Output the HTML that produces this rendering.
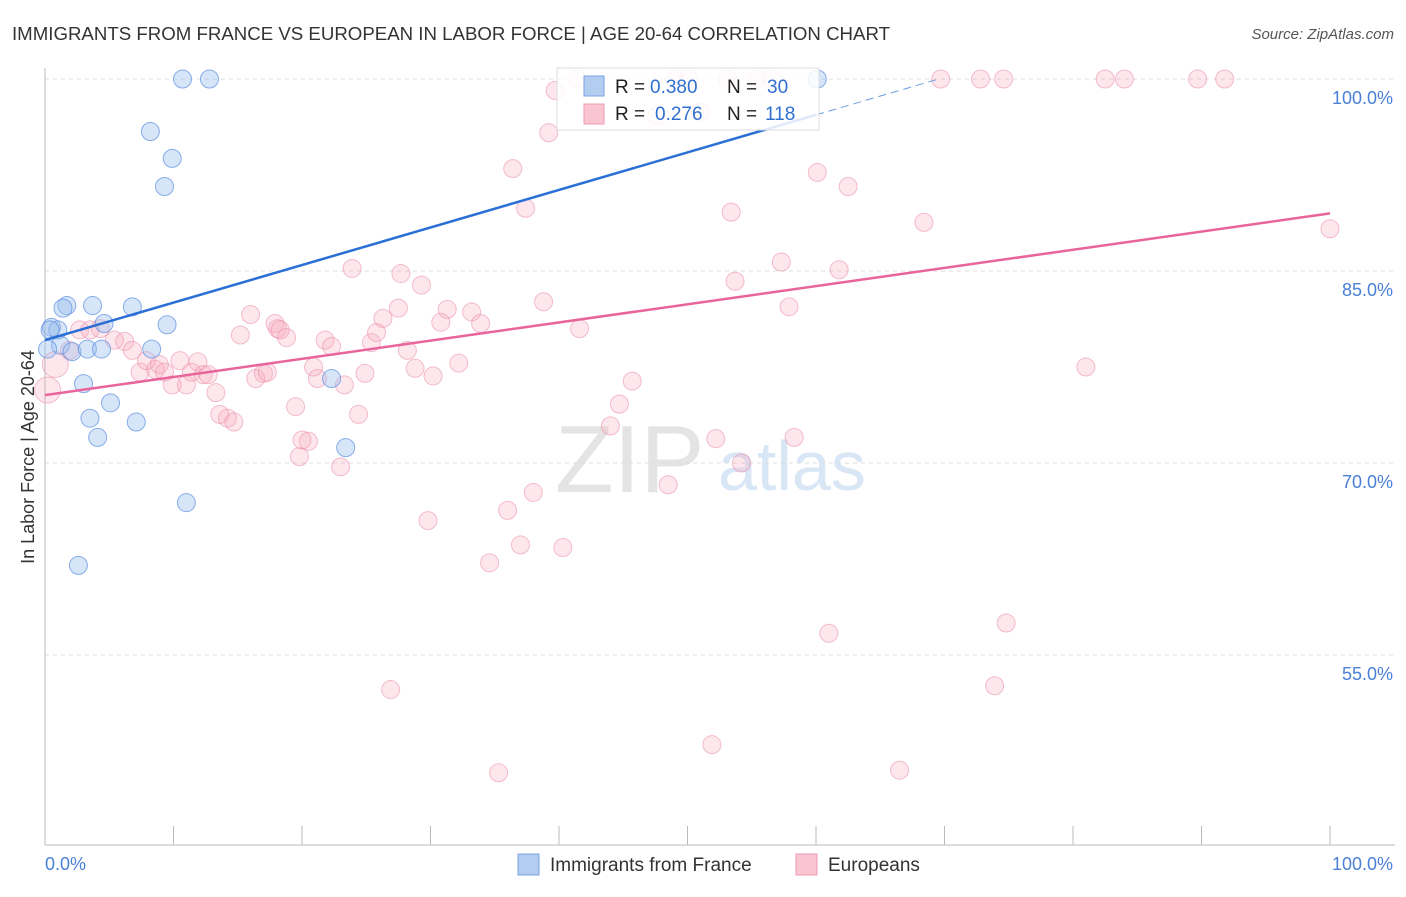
<!DOCTYPE html>
<html><head><meta charset="utf-8">
<style>
body{margin:0;background:#fff;font-family:"Liberation Sans",sans-serif;}
svg text{font-family:"Liberation Sans",sans-serif;}
</style></head>
<body>
<svg id="chart" width="1406" height="892" viewBox="0 0 1406 892">
<text x="12" y="40" font-size="18" fill="#333" textLength="878" lengthAdjust="spacingAndGlyphs">IMMIGRANTS FROM FRANCE VS EUROPEAN IN LABOR FORCE | AGE 20-64 CORRELATION CHART</text>
<text x="1394" y="39" font-size="15" fill="#555" font-style="italic" text-anchor="end">Source: ZipAtlas.com</text>
<text x="555" y="492" font-size="96" fill="#e4e4e4" font-family="Liberation Serif">ZIP</text>
<text x="718" y="490" font-size="70" fill="#d8e6f6">atlas</text>
<text transform="translate(34,457) rotate(-90)" font-size="18" fill="#333" text-anchor="middle">In Labor Force | Age 20-64</text>
<g id="grid"></g>
<g id="axes"></g>
<g id="pink"></g>
<g id="blue"></g>
<g id="trend"></g>
<g>
<rect x="557" y="68" width="262" height="62" fill="#fff" fill-opacity="0.85" stroke="#ddd"/>
<rect x="584" y="76" width="20" height="20" fill="#b3cdf0" stroke="#7aa3e0"/>
<rect x="584" y="104" width="20" height="20" fill="#fac4d3" stroke="#ee9bb3"/>
<text y="93" font-size="19" fill="#222"><tspan x="615">R =</tspan><tspan x="650" fill="#2f6fd0">0.380</tspan><tspan x="727">N =</tspan><tspan x="767" fill="#2f6fd0">30</tspan></text>
<text y="120" font-size="19" fill="#222"><tspan x="615">R =</tspan><tspan x="655" fill="#2f6fd0">0.276</tspan><tspan x="727">N =</tspan><tspan x="765" fill="#2f6fd0">118</tspan></text>
</g>
<g>
<rect x="518" y="854" width="21" height="21" fill="#b3cdf0" stroke="#7aa3e0"/>
<text x="550" y="871" font-size="19" fill="#333">Immigrants from France</text>
<rect x="796" y="854" width="21" height="21" fill="#fac4d3" stroke="#ee9bb3"/>
<text x="828" y="871" font-size="19" fill="#333">Europeans</text>
</g>
</svg>
<script>
const blueX=[10.7,12.8,60.1,8.2,9.9,9.3,1.7,3.7,6.8,1.4,0.5,1.0,4.6,9.5,1.2,2.1,3.3,4.4,8.3,0.2,3.0,5.1,3.5,7.1,4.1,22.3,23.4,11.0,2.6,0.4];
const blueY=[100,100,100,95.9,93.8,91.6,82.3,82.3,82.2,82.1,80.6,80.4,80.9,80.8,79.2,78.7,78.9,78.9,78.9,78.9,76.2,74.7,73.5,73.2,72.0,76.6,71.2,66.9,62.0,80.4];
const pinkX=[0.2,0.8,1.9,2.7,4.3,3.5,5.4,6.2,6.8,7.4,7.9,8.6,8.9,9.3,9.9,10.5,11.0,11.4,11.9,12.3,12.7,13.3,13.6,14.2,14.7,15.2,16.0,16.4,17.0,17.3,17.9,18.1,18.8,19.5,19.8,20.5,20.9,21.2,21.8,22.3,23.0,23.3,23.9,24.4,24.9,25.4,25.8,26.3,27.5,27.7,28.2,28.8,29.3,30.2,29.8,30.8,31.3,32.2,33.2,33.9,34.6,36.0,36.4,37.0,37.4,38.0,38.8,39.2,39.7,40.3,41.4,41.6,44.0,44.7,45.7,47.6,48.5,49.0,50.1,51.0,51.9,52.2,53.1,53.4,53.7,54.2,55.4,56.6,57.3,57.9,58.3,60.1,61.0,61.8,62.5,66.5,68.4,69.7,72.8,73.9,74.6,74.8,81.0,82.5,84.0,89.7,91.8,100,35.3,26.9,18.3,20.0];
const pinkY=[75.7,77.7,78.8,80.4,80.5,80.4,79.6,79.5,78.8,77.1,78.0,77.3,77.7,77.1,76.1,78.0,76.1,77.1,77.9,76.9,76.9,75.5,73.8,73.5,73.2,80.0,81.6,76.6,77.0,77.1,80.9,80.5,79.8,74.4,70.5,71.7,77.5,76.6,79.6,79.1,69.7,76.1,85.2,73.8,77.0,79.4,80.2,81.3,82.1,84.8,78.8,77.4,83.9,76.8,65.5,81.0,82.0,77.8,81.8,80.9,62.2,66.3,93.0,63.6,89.9,67.7,82.6,95.8,99.1,63.4,100,80.5,72.9,74.6,76.4,97.1,68.3,100,100,97.4,48.0,71.9,100,89.6,84.2,70.0,100,100,85.7,82.2,72.0,92.7,56.7,85.1,91.6,46.0,88.8,100,100,52.6,100,57.5,77.5,100,100,100,100,88.3,45.8,52.3,80.4,71.8];
const yTicks=[100,85,70,55];
const yTickLabels=["100.0%","85.0%","70.0%","55.0%"];
const blueTrend=[79.6,0.2933]; // intercept, slope
const pinkTrend=[75.3,0.142];

const X=v=>45+v*12.85;
const Y=v=>79+(100-v)*12.8;
const NS="http://www.w3.org/2000/svg";
function mk(parent,tag,attrs){const e=document.createElementNS(NS,tag);for(const k in attrs)e.setAttribute(k,attrs[k]);document.getElementById(parent).appendChild(e);return e;}

yTicks.forEach((t,i)=>{
  const l=mk('grid','line',{x1:45,x2:1395,y1:Y(t),y2:Y(t),stroke:'#ddd','stroke-dasharray':'4,4'});
  
  
  const tx=mk('grid','text',{x:1393,y:Y(t)+25,'font-size':18,fill:'#4a80d6','text-anchor':'end'});
  tx.textContent=yTickLabels[i];
  
  
});
let a=mk('axes','line',{x1:45,x2:45,y1:68,y2:845,stroke:'#bbb'});


a=mk('axes','line',{x1:45,x2:1395,y1:845,y2:845,stroke:'#bbb'});


for(let i=0;i<=10;i++){
  const t=mk('axes','line',{x1:X(i*10),x2:X(i*10),y1:826,y2:845,stroke:'#bbb'});
  
  
}
let xl=mk('axes','text',{x:45,y:870,'font-size':18,fill:'#4a80d6'});xl.textContent='0.0%';


xl=mk('axes','text',{x:1393,y:870,'font-size':18,fill:'#4a80d6','text-anchor':'end'});xl.textContent='100.0%';



pinkX.forEach((x,i)=>{
  const big=x<1;
  const c=mk('pink','circle',{cx:X(x),cy:Y(pinkY[i]),r:big?13:9,fill:'#f7a8bf','fill-opacity':0.28,stroke:'#ea8aa8','stroke-opacity':0.55,'stroke-width':1});
  
  
});
blueX.forEach((x,i)=>{
  const c=mk('blue','circle',{cx:X(x),cy:Y(blueY[i]),r:9,fill:'#9cbfee','fill-opacity':0.4,stroke:'#5a8ee0','stroke-opacity':0.7,'stroke-width':1});
  
  
});
let t=mk('trend','line',{x1:X(0),y1:Y(blueTrend[0]),x2:X(60),y2:Y(blueTrend[0]+blueTrend[1]*60),stroke:'#2a6fd6','stroke-width':2.5});


const xe=(100-blueTrend[0])/blueTrend[1];
t=mk('trend','line',{x1:X(60),y1:Y(blueTrend[0]+blueTrend[1]*60),x2:X(xe),y2:Y(100),stroke:'#6a9be0','stroke-width':1,'stroke-dasharray':'8,5'});


t=mk('trend','line',{x1:X(0),y1:Y(pinkTrend[0]),x2:X(100),y2:Y(pinkTrend[0]+pinkTrend[1]*100),stroke:'#e8649a','stroke-width':2.5});


</script>
</body></html>
